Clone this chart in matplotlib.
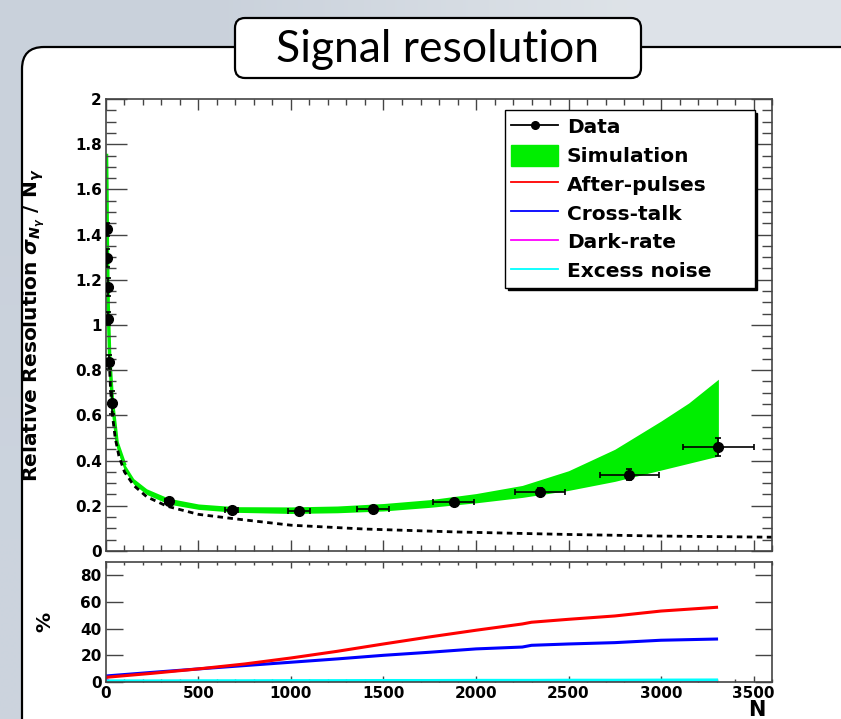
import numpy as np
import matplotlib
matplotlib.use("Agg")
import matplotlib.pyplot as plt
from matplotlib.patches import FancyBboxPatch, Patch
from matplotlib.lines import Line2D
from matplotlib.ticker import MultipleLocator, FormatStrFormatter

plt.rcParams['font.family'] = ['DejaVu Sans']
plt.rcParams['font.weight'] = 'bold'

# data points (N, relative resolution) with errors
n_data = [6.5, 8, 9.5, 12, 18, 31, 340, 680, 1044, 1443, 1880, 2344, 2829, 3310]
res_data = [1.423, 1.298, 1.170, 1.028, 0.836, 0.656, 0.220, 0.182, 0.178, 0.187, 0.218, 0.262, 0.338, 0.459]
n_err = [0.5, 0.5, 0.6, 0.7, 1, 2, 19, 36, 60, 85, 110, 135, 160, 190]
res_err = [0.03, 0.04, 0.04, 0.03, 0.03, 0.05, 0.01, 0.008, 0.008, 0.008, 0.01, 0.015, 0.025, 0.04]

# simulation band
sim_n = [3, 5, 8, 12, 20, 35, 60, 100, 150, 220, 340, 500, 700, 1000, 1250, 1500,
         1750, 2000, 2250, 2500, 2750, 3000, 3150, 3310]
sim_lo = [1.60, 1.50, 1.24, 1.02, 0.80, 0.61, 0.45, 0.355, 0.295, 0.250, 0.207, 0.184, 0.171, 0.166,
          0.169, 0.177, 0.193, 0.213, 0.237, 0.268, 0.308, 0.358, 0.388, 0.420]
sim_hi = [1.75, 1.62, 1.33, 1.09, 0.86, 0.66, 0.48, 0.385, 0.320, 0.275, 0.233, 0.208, 0.196, 0.195,
          0.199, 0.210, 0.227, 0.254, 0.290, 0.355, 0.450, 0.575, 0.655, 0.760]

# dashed reference curve
dash_n = [18, 25, 35, 50, 70, 100, 150, 220, 330, 500, 700, 1000, 1400, 1900, 2500, 3000, 3600]
dash_v = [0.84, 0.71, 0.60, 0.50, 0.42, 0.35, 0.29, 0.240, 0.198, 0.162, 0.142, 0.114, 0.097, 0.084, 0.073, 0.066, 0.061]

# contributions in %
frac_n = [0, 250, 500, 750, 1000, 1250, 1500, 1750, 2000, 2250, 2300, 2500, 2750, 3000, 3300]
after_pulses = [3.5, 6.5, 9.8, 13.5, 18.0, 23.0, 28.5, 33.8, 38.8, 43.5, 44.8, 47.0, 49.5, 53.2, 56.0]
cross_talk = [4.5, 7.2, 9.8, 12.3, 14.8, 17.3, 20.0, 22.3, 24.8, 26.2, 27.5, 28.5, 29.5, 31.3, 32.2]
excess_noise = [0.8, 0.8, 0.9, 0.9, 1.0, 1.0, 1.1, 1.1, 1.2, 1.2, 1.2, 1.3, 1.3, 1.4, 1.5]
dark_n = [0, 15, 500, 1000, 1500, 2000, 2500, 3000, 3300]
dark_rate = [2.5, 0.3, 0.2, 0.2, 0.2, 0.2, 0.2, 0.2, 0.2]

GREEN = '#00ee00'
AXC = '#444444'

fig = plt.figure(figsize=(8.41, 7.19), dpi=100)

# slide background
bg = fig.add_axes([0, 0, 1, 1], zorder=-10)
bg.set_xlim(0, 841)
bg.set_ylim(719, 0)
bg.axis('off')
grad = np.array([[[0.79, 0.82, 0.86], [0.87, 0.89, 0.91]],
                 [[0.80, 0.83, 0.87], [0.88, 0.90, 0.92]]])
bg.imshow(grad, extent=[0, 841, 719, 0], aspect='auto', interpolation='bilinear')
bg.add_patch(FancyBboxPatch((22, 47), 900, 800, boxstyle="round,pad=0,rounding_size=22",
                            fc='white', ec='black', lw=1.6))
bg.add_patch(FancyBboxPatch((235, 18), 406, 60, boxstyle="round,pad=0,rounding_size=10",
                            fc='white', ec='black', lw=1.6))
bg.text(438, 49, "Signal resolution", ha='center', va='center', fontsize=32,
        fontweight='normal', family='Lato', color='black')

# main panel
ax = fig.add_axes([0.126, 0.2337, 0.792, 0.6286])
ax.fill_between(sim_n, sim_lo, sim_hi, color=GREEN, lw=0, zorder=1)
# steep low-N part of the band, drawn as a line so it stays visible
ax.plot(sim_n[:8], sim_hi[:8], color=GREEN, lw=2.5, zorder=1)
ax.plot(dash_n, dash_v, color='black', lw=2, ls=(0, (2, 1.6)), zorder=2)
ax.errorbar(n_data, res_data, xerr=n_err, yerr=res_err, fmt='o', color='black',
            ms=7, elinewidth=1.2, capsize=2.5, capthick=1.2, zorder=4)
ax.set_xlim(0, 3600)
ax.set_ylim(0, 2)
ax.xaxis.set_major_locator(MultipleLocator(500))
ax.xaxis.set_minor_locator(MultipleLocator(100))
ax.yaxis.set_major_locator(MultipleLocator(0.2))
ax.yaxis.set_minor_locator(MultipleLocator(0.05))
ax.yaxis.set_major_formatter(FormatStrFormatter('%g'))
ax.tick_params(which='both', direction='in', top=True, right=True, color=AXC,
               width=1, labelsize=11, pad=3)
ax.tick_params(axis='y', which='major', length=15)
ax.tick_params(axis='y', which='minor', length=7.5)
ax.tick_params(axis='x', which='major', length=8)
ax.tick_params(axis='x', which='minor', length=4.3)
ax.tick_params(axis='x', labelbottom=False)
for s in ax.spines.values():
    s.set_color(AXC)
    s.set_linewidth(1.2)
ax.set_ylabel(r"Relative Resolution $\sigma_{N_{\gamma}}$ / N$_{\gamma}$", fontsize=14.5,
              fontweight='bold')
ax.yaxis.set_label_coords(-0.089, 0.5)

handles = [Line2D([], [], color='black', marker='o', ms=5.5, lw=1.3),
           Patch(facecolor=GREEN, edgecolor=GREEN),
           Line2D([], [], color='#ff0000', lw=1.3),
           Line2D([], [], color='#0000ff', lw=1.3),
           Line2D([], [], color='#ff00ff', lw=1.3),
           Line2D([], [], color='#00ffff', lw=1.3)]
labels = ['Data', 'Simulation', 'After-pulses', 'Cross-talk', 'Dark-rate', 'Excess noise']
leg = ax.legend(handles, labels, loc='upper left', bbox_to_anchor=(0.599, 0.976, 0.375, 0),
                mode='expand', borderaxespad=0, prop={'size': 14.5, 'weight': 'bold'},
                handlelength=2.3, handleheight=1.2, handletextpad=0.45, labelspacing=0.38,
                borderpad=0.32, fancybox=False, framealpha=1, edgecolor='black',
                shadow={'color': 'black', 'alpha': 1})
leg.get_frame().set_linewidth(1.0)

# lower panel
ax2 = fig.add_axes([0.126, 0.0515, 0.792, 0.1669])
ax2.plot(dark_n, dark_rate, color='#ff00ff', lw=2.2)
ax2.plot(frac_n, excess_noise, color='#00ffff', lw=2.2)
ax2.plot(frac_n, cross_talk, color='#0000ff', lw=2.2)
ax2.plot(frac_n, after_pulses, color='#ff0000', lw=2.2)
ax2.set_xlim(0, 3600)
ax2.set_ylim(0, 90)
ax2.xaxis.set_major_locator(MultipleLocator(500))
ax2.xaxis.set_minor_locator(MultipleLocator(100))
ax2.yaxis.set_major_locator(MultipleLocator(20))
ax2.tick_params(which='both', direction='in', top=True, right=True, color=AXC,
                width=1, labelsize=11, pad=3)
ax2.tick_params(axis='y', which='major', length=12)
ax2.tick_params(axis='x', which='major', length=4)
ax2.tick_params(axis='x', which='minor', length=2.5)
for s in ax2.spines.values():
    s.set_color(AXC)
    s.set_linewidth(1.2)
ax2.set_ylabel('%', fontsize=14.5, fontweight='bold')
ax2.yaxis.set_label_coords(-0.077, 0.5)
ax2.text(0.977, -0.235, 'N', transform=ax2.transAxes, ha='center', va='center',
         fontsize=15, fontweight='bold')

fig.savefig('out.png', dpi=100)
